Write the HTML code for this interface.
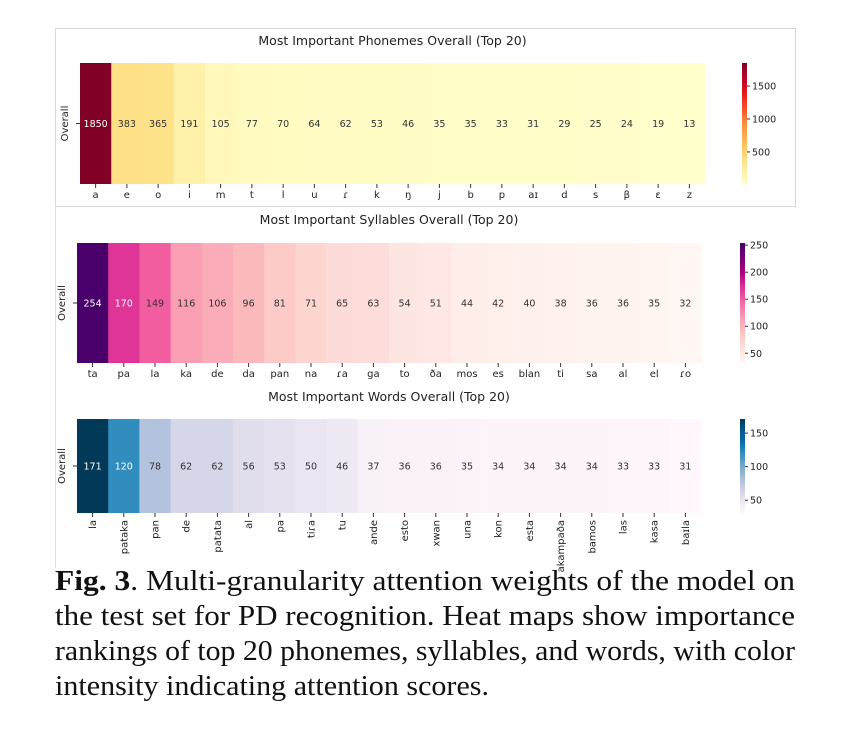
<!DOCTYPE html>
<html><head><meta charset="utf-8"><style>
html,body{margin:0;padding:0;background:#fff;}
svg{display:block;}
</style></head><body>
<svg id="fig" width="842" height="733" viewBox="0 0 842 733" xmlns="http://www.w3.org/2000/svg" font-family="DejaVu Sans, Liberation Sans, sans-serif">
<rect x="0" y="0" width="842" height="733" fill="#fff"/>
<rect x="55.5" y="28.5" width="740" height="178" fill="none" stroke="#d8d8d8"/>
<line x1="55.5" y1="206" x2="55.5" y2="568" stroke="#e0e0e0"/>
<g id="charts"></g>
<g font-family="Liberation Serif, serif" font-size="29" fill="#111">
<text x="55" y="590" textLength="740" lengthAdjust="spacingAndGlyphs"><tspan font-weight="bold">Fig. 3</tspan>.  Multi-granularity attention weights of the model on</text>
<text x="55" y="625" textLength="740" lengthAdjust="spacingAndGlyphs">the test set for PD recognition.  Heat maps show importance</text>
<text x="55" y="660" textLength="740" lengthAdjust="spacingAndGlyphs">rankings of top 20 phonemes, syllables, and words, with color</text>
<text x="55" y="695" textLength="434" lengthAdjust="spacingAndGlyphs">intensity indicating attention scores.</text>
</g>
</svg>
<script>
const phonemeLabels = ["a","e","o","i","m","t","l","u","ɾ","k","ŋ","j","b","p","aɪ","d","s","β","ɛ","z"];
const phonemeValues = [1850,383,365,191,105,77,70,64,62,53,46,35,35,33,31,29,25,24,19,13];
const phonemeTicks = [500,1000,1500];
const syllableLabels = ["ta","pa","la","ka","de","da","pan","na","ɾa","ga","to","ða","mos","es","blan","ti","sa","al","el","ɾo"];
const syllableValues = [254,170,149,116,106,96,81,71,65,63,54,51,44,42,40,38,36,36,35,32];
const syllableTicks = [50,100,150,200,250];
const wordLabels = ["la","pataka","pan","de","patata","al","pa","tiɾa","tu","ande","esto","xwan","una","kon","esta","akampaða","bamos","las","kasa","baɪla"];
const wordValues = [171,120,78,62,62,56,53,50,46,37,36,36,35,34,34,34,34,33,33,31];
const wordTicks = [50,100,150];

const YlOrRd=["#ffffcc","#ffeda0","#fed976","#feb24c","#fd8d3c","#fc4e2a","#e31a1c","#bd0026","#800026"];
const RdPu=["#fff7f3","#fde0dd","#fcc5c0","#fa9fb5","#f768a1","#dd3497","#ae017e","#7a0177","#49006a"];
const PuBu=["#fff7fb","#ece7f2","#d0d1e6","#a6bddb","#74a9cf","#3690c0","#0570b0","#045a8d","#023858"];
function hex(h){return [1,3,5].map(i=>parseInt(h.substr(i,2),16));}
function cmap(stops,t){t=Math.max(0,Math.min(1,t));const p=t*(stops.length-1);const i=Math.min(stops.length-2,Math.floor(p));const f=p-i;const a=hex(stops[i]),b=hex(stops[i+1]);return a.map((v,k)=>Math.round(v+(b[k]-v)*f));}
const NS="http://www.w3.org/2000/svg";
function mk(tag,attrs,parent){const e=document.createElementNS(NS,tag);for(const k in attrs)e.setAttribute(k,attrs[k]);parent.appendChild(e);return e;}
const root=document.getElementById('charts');

function heat(cfg){
  const g=mk('g',{},root);
  
  
  const vals=cfg.values, n=vals.length;
  const vmin=Math.min(...vals), vmax=Math.max(...vals);
  const cw=(cfg.x1-cfg.x0)/n;
  const xS=i=>cfg.x0+i*cw;
  const cS=v=>cmap(cfg.stops,(v-vmin)/(vmax-vmin));
  const t=mk('text',{x:(cfg.x0+cfg.x1)/2,y:cfg.titleY,'text-anchor':'middle','font-size':12.5,fill:'#222'},g);
  t.textContent=cfg.title;
  
  
  const yl=mk('text',{transform:`translate(${cfg.x0-12},${(cfg.y0+cfg.y1)/2}) rotate(-90)`,'text-anchor':'middle','font-size':10,fill:'#222'},g);
  yl.textContent='Overall';
  
  
  mk('line',{x1:cfg.x0-4,x2:cfg.x0,y1:(cfg.y0+cfg.y1)/2,y2:(cfg.y0+cfg.y1)/2,stroke:'#333'},g);
  vals.forEach((v,i)=>{
    const c=cS(v);
    const r=mk('rect',{x:xS(i),y:cfg.y0,width:cw+0.6,height:cfg.y1-cfg.y0,fill:`rgb(${c})`},g);
    
    
    const lum=(0.299*c[0]+0.587*c[1]+0.114*c[2])/255;
    const tx=mk('text',{x:xS(i)+cw/2,y:(cfg.y0+cfg.y1)/2+3.5,'text-anchor':'middle','font-size':9.5,fill:lum<0.55?'#fff':'#333'},g);
    tx.textContent=v;
    
    
    const cx=xS(i)+cw/2;
    mk('line',{x1:cx,x2:cx,y1:cfg.y1,y2:cfg.y1+4,stroke:'#333'},g);
    let lb;
    if(cfg.rotate){
      lb=mk('text',{transform:`translate(${cx+3.5},${cfg.y1+7}) rotate(-90)`,'text-anchor':'end','font-size':10,fill:'#222'},g);
    } else {
      lb=mk('text',{x:cx,y:cfg.y1+14,'text-anchor':'middle','font-size':10,fill:'#222'},g);
    }
    lb.textContent=cfg.labels[i];
    
    
  });
  // colorbar
  const cb=mk('g',{},g);
  
  
  const steps=60, h=(cfg.y1-cfg.y0)/steps;
  for(let s=0;s<steps;s++){
    const v=vmax-(s+0.5)/steps*(vmax-vmin);
    mk('rect',{x:cfg.cbx,y:cfg.y0+s*h,width:5,height:h+0.5,fill:`rgb(${cS(v)})`},cb);
  }
  const yC=v=>cfg.y1-(v-vmin)/(vmax-vmin)*(cfg.y1-cfg.y0);
  cfg.ticks.forEach(tv=>{
    const y=yC(tv);
    mk('line',{x1:cfg.cbx+5,x2:cfg.cbx+8,y1:y,y2:y,stroke:'#333'},cb);
    const tl=mk('text',{x:cfg.cbx+10,y:y+3.5,'font-size':9.5,fill:'#222'},cb);
    tl.textContent=tv;
    
    
  });
}
heat({name:'phoneme-heatmap',title:'Most Important Phonemes Overall (Top 20)',labels:phonemeLabels,values:phonemeValues,ticks:phonemeTicks,stops:YlOrRd,x0:80,x1:705,y0:63,y1:184,titleY:45,cbx:742});
heat({name:'syllable-heatmap',title:'Most Important Syllables Overall (Top 20)',labels:syllableLabels,values:syllableValues,ticks:syllableTicks,stops:RdPu,x0:77,x1:701,y0:243,y1:363,titleY:224,cbx:740});
heat({name:'word-heatmap',title:'Most Important Words Overall (Top 20)',labels:wordLabels,values:wordValues,ticks:wordTicks,stops:PuBu,x0:77,x1:701,y0:419,y1:513,titleY:401,cbx:740,rotate:true});
</script>
</body></html>
